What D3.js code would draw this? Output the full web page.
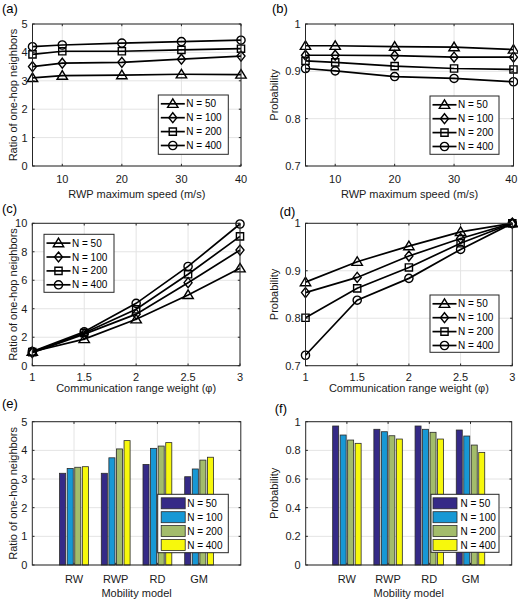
<!DOCTYPE html>
<html>
<head>
<meta charset="utf-8">
<script src="https://cdn.jsdelivr.net/npm/d3@7"></script>
<style>
  html, body { margin: 0; padding: 0; background: #fff; }
  svg { display: block; font-family: "Liberation Sans", Arial, Helvetica, sans-serif; }
</style>
</head>
<body>
<svg id="chart" width="518" height="601"></svg>
<script>
// ---------------- DATA ----------------
const seriesNames = ["N = 50", "N = 100", "N = 200", "N = 400"];

// (a) and (b): RWP maximum speed
const speeds = [5, 10, 20, 30, 40];
const ratioSpeed50  = [3.10, 3.18, 3.20, 3.23, 3.22];
const ratioSpeed100 = [3.50, 3.62, 3.65, 3.76, 3.87];
const ratioSpeed200 = [3.93, 4.04, 4.04, 4.09, 4.13];
const ratioSpeed400 = [4.20, 4.26, 4.33, 4.38, 4.43];
const probSpeed50  = [0.954, 0.954, 0.952, 0.951, 0.946];
const probSpeed100 = [0.934, 0.934, 0.933, 0.930, 0.930];
const probSpeed200 = [0.922, 0.919, 0.911, 0.906, 0.904];
const probSpeed400 = [0.906, 0.901, 0.889, 0.885, 0.878];

// (c) and (d): communication range weight
const weights = [1, 1.5, 2, 2.5, 3];
const ratioWeight50  = [0.98, 1.87, 3.26, 4.97, 6.84];
const ratioWeight100 = [0.92, 2.22, 3.62, 5.83, 8.12];
const ratioWeight200 = [0.95, 2.30, 3.96, 6.42, 9.08];
const ratioWeight400 = [1.00, 2.38, 4.38, 6.97, 9.95];
const probWeight50  = [0.876, 0.919, 0.952, 0.982, 1.0];
const probWeight100 = [0.854, 0.886, 0.931, 0.968, 1.0];
const probWeight200 = [0.801, 0.863, 0.907, 0.958, 1.0];
const probWeight400 = [0.722, 0.838, 0.884, 0.945, 1.0];

// (e) and (f): mobility models
const models = ["RW", "RWP", "RD", "GM"];
const ratioModel50  = [3.20, 3.20, 3.51, 3.08];
const ratioModel100 = [3.37, 3.74, 4.07, 3.35];
const ratioModel200 = [3.41, 4.05, 4.15, 3.66];
const ratioModel400 = [3.43, 4.34, 4.27, 3.76];
const probModel50  = [0.970, 0.947, 0.970, 0.942];
const probModel100 = [0.907, 0.930, 0.947, 0.900];
const probModel200 = [0.872, 0.902, 0.926, 0.837];
const probModel400 = [0.849, 0.879, 0.879, 0.786];

// ticks
const speedTicks = [10, 20, 30, 40];
const speedTickLabels = ["10", "20", "30", "40"];
const weightTicks = [1, 1.5, 2, 2.5, 3];
const weightTickLabels = ["1", "1.5", "2", "2.5", "3"];
const ratio5Ticks = [0, 1, 2, 3, 4, 5];
const ratio5TickLabels = ["0", "1", "2", "3", "4", "5"];
const ratio10Ticks = [0, 2, 4, 6, 8, 10];
const ratio10TickLabels = ["0", "2", "4", "6", "8", "10"];
const prob7Ticks = [0.7, 0.8, 0.9, 1];
const prob7TickLabels = ["0.7", "0.8", "0.9", "1"];
const prob0Ticks = [0, 0.2, 0.4, 0.6, 0.8, 1];
const prob0TickLabels = ["0", "0.2", "0.4", "0.6", "0.8", "1"];

const barColors = ["#352a87", "#1798d5", "#a3bc6b", "#f7f80c"];
const markers = ["triangle", "diamond", "square", "circle"];

// ---------------- DRAWING ----------------
const W = 518;
const svg = d3.select("#chart");
const AX = "#262626";
const GRID = "#e4e4e4";

function markerPath(type) {
  switch (type) {
    case "triangle": return "M0,-5L5.2,3.6L-5.2,3.6Z";
    case "diamond": return "M0,-5L4,0L0,5L-4,0Z";
    case "square": return "M-3.6,-3.6H3.6V3.6H-3.6Z";
    default: return d3.arc()({innerRadius: 0, outerRadius: 4.1, startAngle: 0, endAngle: 2 * Math.PI});
  }
}

function frame(g, x, y, p) {
  g.append("g").selectAll("line").data(p.xGrid).join("line")
    .attr("x1", d => x(d)).attr("x2", d => x(d))
    .attr("y1", p.top).attr("y2", p.bottom)
    .attr("stroke", GRID).attr("stroke-width", 1);
  g.append("g").selectAll("line").data(p.yTicks).join("line")
    .attr("x1", p.left).attr("x2", p.right)
    .attr("y1", d => y(d)).attr("y2", d => y(d))
    .attr("stroke", GRID).attr("stroke-width", 1);
}

function axesOverlay(g, x, y, p) {
  g.append("rect").attr("x", p.left).attr("y", p.top)
    .attr("width", p.right - p.left).attr("height", p.bottom - p.top)
    .attr("fill", "none").attr("stroke", AX).attr("stroke-width", 1);
  const tl = 2.2;
  const tk = g.append("g").attr("stroke", AX).attr("stroke-width", 1);
  p.xTicks.forEach(t => {
    tk.append("line").attr("x1", x(t)).attr("x2", x(t)).attr("y1", p.bottom).attr("y2", p.bottom - tl);
    tk.append("line").attr("x1", x(t)).attr("x2", x(t)).attr("y1", p.top).attr("y2", p.top + tl);
  });
  p.yTicks.forEach(t => {
    tk.append("line").attr("x1", p.left).attr("x2", p.left + tl).attr("y1", y(t)).attr("y2", y(t));
    tk.append("line").attr("x1", p.right).attr("x2", p.right - tl).attr("y1", y(t)).attr("y2", y(t));
  });
  // x tick labels (kept inside the page width)
  g.append("g").selectAll("text").data(p.xTicks).join("text")
    .attr("y", p.xTickBaseline)
    .attr("text-anchor", "middle").attr("font-size", 11).attr("fill", "#1a1a1a")
    .text((d, i) => p.xTickLabels[i])
    .attr("x", function(d) {
      const half = this.getComputedTextLength() / 2;
      return Math.min(x(d), W - 0.5 - half);
    });
  g.append("g").selectAll("text").data(p.yTicks).join("text")
    .attr("x", p.left - 5).attr("y", d => y(d)).attr("dy", "0.36em")
    .attr("text-anchor", "end").attr("font-size", 11).attr("fill", "#1a1a1a")
    .text((d, i) => p.yTickLabels[i]);
  g.append("text").attr("x", (p.left + p.right) / 2).attr("y", p.xLabelBaseline)
    .attr("text-anchor", "middle").attr("font-size", 11).attr("fill", "#1a1a1a")
    .text(p.xLabel);
  g.append("text")
    .attr("transform", `translate(${p.yLabelX},${(p.top + p.bottom) / 2}) rotate(-90)`)
    .attr("text-anchor", "middle").attr("font-size", 11).attr("fill", "#1a1a1a")
    .text(p.yLabel);
  g.append("text").attr("x", p.tagX).attr("y", p.tagY)
    .attr("font-size", 13).attr("fill", "#000").text(p.tag);
}

function linePanel(p) {
  const g = svg.append("g");
  const x = d3.scaleLinear().domain(p.xDomain).range([p.left, p.right]);
  const y = d3.scaleLinear().domain(p.yDomain).range([p.bottom, p.top]);
  p.xGrid = p.xTicks;
  frame(g, x, y, p);
  const line = d3.line().x((d, i) => x(p.xs[i])).y(d => y(d));
  p.series.forEach((s, k) => {
    g.append("path").datum(s).attr("d", line)
      .attr("fill", "none").attr("stroke", "#000").attr("stroke-width", 1.7);
    g.append("g").selectAll("path").data(s).join("path")
      .attr("transform", (d, i) => `translate(${x(p.xs[i])},${y(d)})`)
      .attr("d", markerPath(markers[k]))
      .attr("fill", "none").attr("stroke", "#000").attr("stroke-width", 1.4);
  });
  axesOverlay(g, x, y, p);
  const L = p.legend;
  const lg = g.append("g");
  lg.append("rect").attr("x", L.x).attr("y", L.y).attr("width", L.w).attr("height", L.h)
    .attr("fill", "#fff").attr("stroke", AX).attr("stroke-width", 1);
  seriesNames.forEach((name, k) => {
    const cy = L.y + 8.8 + k * 13.9;
    lg.append("line").attr("x1", L.x + 2.5).attr("x2", L.x + 26.5).attr("y1", cy).attr("y2", cy)
      .attr("stroke", "#000").attr("stroke-width", 1.7);
    lg.append("path").attr("transform", `translate(${L.x + 14.5},${cy})`)
      .attr("d", markerPath(markers[k]))
      .attr("fill", "none").attr("stroke", "#000").attr("stroke-width", 1.4);
    lg.append("text").attr("x", L.x + 28).attr("y", cy).attr("dy", "0.35em")
      .attr("font-size", 10).attr("fill", "#000").text(name);
  });
}

function barPanel(p) {
  const g = svg.append("g");
  const x = d3.scaleLinear().domain([0, models.length + 1]).range([p.left, p.right]);
  const y = d3.scaleLinear().domain(p.yDomain).range([p.bottom, p.top]);
  const cats = models.map((m, i) => i + 1);
  p.xTicks = cats;
  p.xTickLabels = models;
  p.xGrid = cats;
  frame(g, x, y, p);
  const n = p.series.length;
  const groupW = Math.min(0.8, n / (n + 1.5));
  const step = groupW / n;
  const bw = step * 0.8;
  p.series.forEach((s, k) => {
    const off = -groupW / 2 + step * (k + 0.5);
    g.append("g").selectAll("rect").data(s).join("rect")
      .attr("x", (d, i) => x(cats[i] + off - bw / 2))
      .attr("width", x(bw) - x(0))
      .attr("y", d => y(d))
      .attr("height", d => y(p.yDomain[0]) - y(d))
      .attr("fill", barColors[k]).attr("stroke", "#2a2a2a").attr("stroke-width", 0.8);
  });
  axesOverlay(g, x, y, p);
  const L = p.legend;
  const lg = g.append("g");
  lg.append("rect").attr("x", L.x).attr("y", L.y).attr("width", L.w).attr("height", L.h)
    .attr("fill", "#fff").attr("stroke", AX).attr("stroke-width", 1);
  seriesNames.forEach((name, k) => {
    const cy = L.y + 9 + k * 13.9;
    lg.append("rect").attr("x", L.x + L.sx).attr("y", cy - 5.5).attr("width", 24).attr("height", 11)
      .attr("fill", barColors[k]).attr("stroke", "#2a2a2a").attr("stroke-width", 0.8);
    lg.append("text").attr("x", L.x + 29.5).attr("y", cy).attr("dy", "0.35em")
      .attr("font-size", 10).attr("fill", "#000").text(name);
  });
}

// (a)
linePanel({
  tag: "(a)", tagX: 2, tagY: 13,
  left: 32.5, right: 241, top: 24, bottom: 166,
  xDomain: [5, 40], yDomain: [0, 5],
  xTicks: speedTicks, xTickLabels: speedTickLabels,
  yTicks: ratio5Ticks, yTickLabels: ratio5TickLabels,
  xs: speeds, series: [ratioSpeed50, ratioSpeed100, ratioSpeed200, ratioSpeed400],
  xTickBaseline: 182.5, xLabelBaseline: 197.5, yLabelX: 17,
  xLabel: "RWP maximum speed (m/s)", yLabel: "Ratio of one-hop neighbors",
  legend: {x: 158.3, y: 95, w: 70, h: 59.3}
});
// (b)
linePanel({
  tag: "(b)", tagX: 272, tagY: 13,
  left: 305.5, right: 513.5, top: 24, bottom: 166,
  xDomain: [5, 40], yDomain: [0.7, 1],
  xTicks: speedTicks, xTickLabels: speedTickLabels,
  yTicks: prob7Ticks, yTickLabels: prob7TickLabels,
  xs: speeds, series: [probSpeed50, probSpeed100, probSpeed200, probSpeed400],
  xTickBaseline: 182.5, xLabelBaseline: 197.5, yLabelX: 278,
  xLabel: "RWP maximum speed (m/s)", yLabel: "Probability",
  legend: {x: 430, y: 96, w: 69, h: 58.3}
});
// (c)
linePanel({
  tag: "(c)", tagX: 2, tagY: 212.8,
  left: 32.3, right: 240, top: 223.3, bottom: 365.7,
  xDomain: [1, 3], yDomain: [0, 10],
  xTicks: weightTicks, xTickLabels: weightTickLabels,
  yTicks: ratio10Ticks, yTickLabels: ratio10TickLabels,
  xs: weights, series: [ratioWeight50, ratioWeight100, ratioWeight200, ratioWeight400],
  xTickBaseline: 380.5, xLabelBaseline: 391.5, yLabelX: 17,
  xLabel: "Communication range weight (φ)", yLabel: "Ratio of one-hop neighbors",
  legend: {x: 44, y: 234.3, w: 70, h: 58}
});
// (d)
linePanel({
  tag: "(d)", tagX: 279.5, tagY: 216,
  left: 305.5, right: 512.3, top: 223.3, bottom: 365.7,
  xDomain: [1, 3], yDomain: [0.7, 1],
  xTicks: weightTicks, xTickLabels: weightTickLabels,
  yTicks: prob7Ticks, yTickLabels: prob7TickLabels,
  xs: weights, series: [probWeight50, probWeight100, probWeight200, probWeight400],
  xTickBaseline: 380.5, xLabelBaseline: 391.5, yLabelX: 278,
  xLabel: "Communication range weight (φ)", yLabel: "Probability",
  legend: {x: 430, y: 295, w: 69, h: 57.3}
});
// (e)
barPanel({
  tag: "(e)", tagX: 2, tagY: 407.8,
  left: 32.3, right: 240.8, top: 421.7, bottom: 565,
  yDomain: [0, 5],
  yTicks: ratio5Ticks, yTickLabels: ratio5TickLabels,
  series: [ratioModel50, ratioModel100, ratioModel200, ratioModel400],
  xTickBaseline: 582.7, xLabelBaseline: 596.5, yLabelX: 17,
  xLabel: "Mobility model", yLabel: "Ratio of one-hop neighbors",
  legend: {x: 157.7, y: 494.3, w: 70.6, h: 58.4, sx: 3.5}
});
// (f)
barPanel({
  tag: "(f)", tagX: 274.7, tagY: 412.5,
  left: 305.7, right: 511.7, top: 421.7, bottom: 565,
  yDomain: [0, 1],
  yTicks: prob0Ticks, yTickLabels: prob0TickLabels,
  series: [probModel50, probModel100, probModel200, probModel400],
  xTickBaseline: 582.7, xLabelBaseline: 596.5, yLabelX: 278,
  xLabel: "Mobility model", yLabel: "Probability",
  legend: {x: 431, y: 494.3, w: 68, h: 58, sx: 2}
});
</script>
</body>
</html>
